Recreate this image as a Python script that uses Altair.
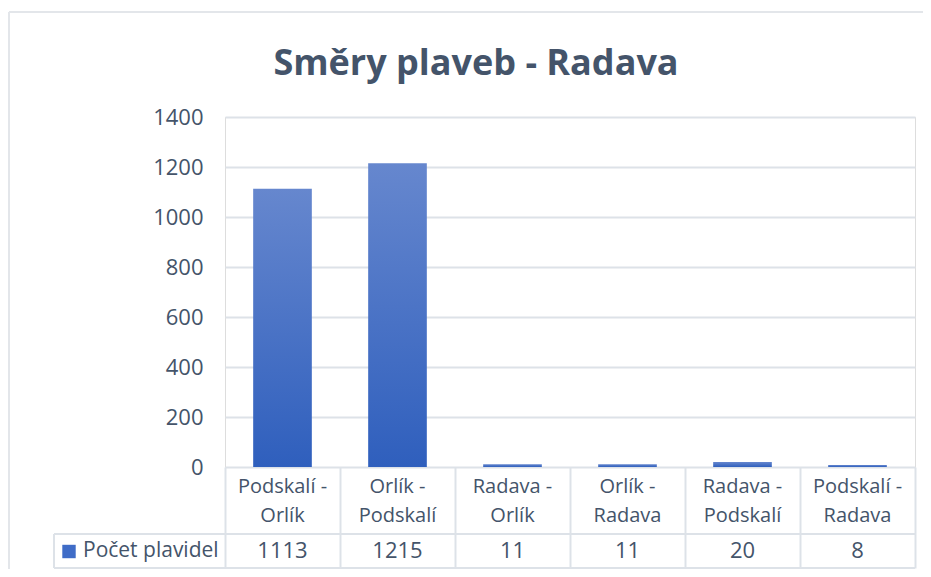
import altair as alt
import pandas as pd

title_text = "Směry plaveb - Radava"
categories = ["Podskalí - Orlík", "Orlík - Podskalí", "Radava - Orlík",
              "Orlík - Radava", "Radava - Podskalí", "Podskalí - Radava"]
values = [1113, 1215, 11, 11, 20, 8]
series_name = "Počet plavidel"
y_ticks = [0, 200, 400, 600, 800, 1000, 1200, 1400]

FONT = "Open Sans"
TXT = "#44546A"
LINE = "#DDE2E8"

df = pd.DataFrame({
    "cat": categories,
    "value": values,
    "label": [c.replace(" - ", " -\n") for c in categories],
})
legend_df = pd.DataFrame({"name": [series_name]})
title_df = pd.DataFrame({"t": [title_text]})

W, H = 690, 350

x_enc = alt.X("cat:N", sort=categories,
              scale=alt.Scale(paddingInner=0, paddingOuter=0),
              axis=alt.Axis(title=None, labels=False, domain=False, grid=False,
                            ticks=True, tickBand="extent", tickSize=101,
                            tickColor=LINE, tickWidth=2))

grad = alt.Gradient(gradient="linear", x1=0, y1=0, x2=0, y2=1,
                    stops=[alt.GradientStop(color="#6687CE", offset=0),
                           alt.GradientStop(color="#2F5FBD", offset=1)])

bars = alt.Chart(df).mark_bar(color=grad, width=alt.RelativeBandSize(0.51)).encode(
    x=x_enc,
    y=alt.Y("value:Q", scale=alt.Scale(domain=[0, 1400]),
            axis=alt.Axis(title=None, values=y_ticks, format="d", domain=False, ticks=False,
                          grid=True, gridColor=LINE, gridWidth=2,
                          labelFont=FONT, labelFontSize=22, labelColor=TXT,
                          labelPadding=22)),
)

header = alt.Chart(df).mark_text(font=FONT, fontSize=20, color=TXT, lineBreak="\n",
                                 lineHeight=29, baseline="middle", align="center").encode(
    x=alt.X("cat:N", sort=categories),
    y=alt.value(370),
    text="label:N",
)

vals = alt.Chart(df).mark_text(font=FONT, fontSize=22, color=TXT, baseline="middle",
                               align="center").encode(
    x=alt.X("cat:N", sort=categories),
    y=alt.value(434),
    text="value:Q",
)

rule_base = alt.Chart(legend_df).mark_rule(color=LINE, strokeWidth=2)
h1 = rule_base.encode(x=alt.value(-171), x2=alt.value(W), y=alt.value(417))
h2 = rule_base.encode(x=alt.value(-171), x2=alt.value(W), y=alt.value(451))
v1 = rule_base.encode(x=alt.value(-171), y=alt.value(417), y2=alt.value(451))

frame_base = alt.Chart(legend_df).mark_rule(color="#E3E6EA", strokeWidth=2)
f_top = frame_base.encode(x=alt.value(-216), x2=alt.value(W + 8), y=alt.value(-105))
f_left = frame_base.encode(x=alt.value(-216), y=alt.value(-105), y2=alt.value(452))

leg_sq = alt.Chart(legend_df).mark_point(shape="square", filled=True, opacity=1,
                                         color="#3F6CC7", size=180).encode(
    x=alt.value(-156), y=alt.value(434.5))
leg_txt = alt.Chart(legend_df).mark_text(font=FONT, fontSize=21, color=TXT,
                                         align="left", baseline="middle").encode(
    x=alt.value(-142), y=alt.value(434), text="name:N")

title = alt.Chart(title_df).mark_text(font=FONT, fontSize=36, fontWeight="bold",
                                      color=TXT, align="center",
                                      baseline="alphabetic").encode(
    x=alt.value(251), y=alt.value(-42), text="t:N")

chart = alt.layer(f_top, f_left, bars, header, vals, h1, h2, v1, leg_sq, leg_txt, title).properties(
    width=W, height=H,
    autosize=alt.AutoSizeParams(type="none"),
    padding={"left": 217, "top": 109, "right": 8, "bottom": 102},
).configure_view(stroke=None).configure(background="white")

chart.save("out.html", embed_options={"renderer": "svg", "actions": False})
